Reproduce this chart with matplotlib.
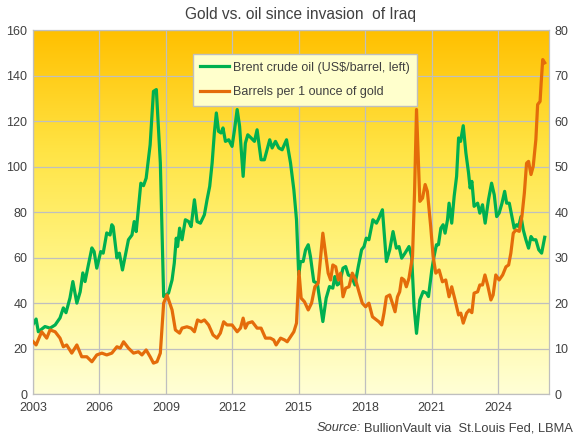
import numpy as np
import matplotlib
matplotlib.use("Agg")
import matplotlib.pyplot as plt
from matplotlib.colors import LinearSegmentedColormap

plt.rcParams["font.family"] = ["Liberation Sans", "DejaVu Sans"]
TXT = "#404040"

# Brent crude, US$/barrel (left axis)
oil_year = [2003.01, 2003.14, 2003.24, 2003.54, 2003.77, 2004.00, 2004.22, 2004.37, 2004.49, 2004.67,
            2004.80, 2004.98, 2005.13, 2005.25, 2005.35, 2005.50, 2005.66, 2005.76, 2005.88, 2006.06,
            2006.17, 2006.33, 2006.48, 2006.56, 2006.62, 2006.79, 2006.90, 2007.04, 2007.31, 2007.47,
            2007.57, 2007.66, 2007.76, 2007.87, 2007.99, 2008.11, 2008.29, 2008.44, 2008.57, 2008.75,
            2008.90, 2009.12, 2009.28, 2009.38, 2009.47, 2009.53, 2009.62, 2009.73, 2009.88, 2010.03,
            2010.14, 2010.29, 2010.41, 2010.56, 2010.74, 2010.86, 2010.98, 2011.09, 2011.19, 2011.28,
            2011.38, 2011.49, 2011.58, 2011.69, 2011.84, 2011.99, 2012.10, 2012.22, 2012.33, 2012.49,
            2012.59, 2012.70, 2012.85, 2013.00, 2013.12, 2013.30, 2013.45, 2013.57, 2013.69, 2013.80,
            2013.95, 2014.10, 2014.25, 2014.45, 2014.63, 2014.78, 2014.90, 2015.00, 2015.08, 2015.20,
            2015.31, 2015.43, 2015.53, 2015.68, 2015.84, 2015.99, 2016.09, 2016.24, 2016.39, 2016.54,
            2016.63, 2016.74, 2016.85, 2017.00, 2017.12, 2017.24, 2017.39, 2017.54, 2017.69, 2017.84,
            2017.95, 2018.05, 2018.17, 2018.35, 2018.51, 2018.62, 2018.78, 2018.85, 2018.96, 2019.11,
            2019.26, 2019.41, 2019.53, 2019.65, 2019.80, 2019.98, 2020.10, 2020.21, 2020.32, 2020.47,
            2020.62, 2020.77, 2020.86, 2021.01, 2021.11, 2021.22, 2021.31, 2021.42, 2021.52, 2021.61,
            2021.72, 2021.79, 2021.91, 2022.02, 2022.13, 2022.22, 2022.31, 2022.43, 2022.55, 2022.67,
            2022.74, 2022.82, 2022.92, 2023.08, 2023.18, 2023.30, 2023.42, 2023.57, 2023.71, 2023.83,
            2023.94, 2024.05, 2024.18, 2024.30, 2024.39, 2024.51, 2024.63, 2024.73, 2024.84, 2024.93,
            2025.04, 2025.14, 2025.26, 2025.38, 2025.49, 2025.59, 2025.71, 2025.84, 2025.97, 2026.11]
oil_usd = [30.8, 33.0, 27.4, 29.7, 29.0, 30.4, 33.5, 37.9, 35.8, 42.3,
           49.5, 40.0, 45.0, 53.3, 49.5, 56.8, 64.3, 62.7, 55.4, 62.7,
           62.0, 70.9, 70.0, 74.5, 73.7, 59.9, 62.0, 54.6, 67.9, 70.0,
           75.9, 71.5, 81.8, 92.8, 91.7, 95.0, 109.7, 133.2, 134.0, 101.8,
           42.9, 44.4, 50.2, 57.6, 68.6, 64.9, 73.0, 67.9, 76.7, 75.9,
           73.7, 85.5, 75.9, 75.2, 78.9, 85.5, 91.4, 101.7, 114.9, 123.7,
           115.6, 114.9, 117.1, 111.2, 111.9, 109.0, 116.3, 125.2, 117.8, 95.8,
           110.4, 114.1, 112.7, 111.2, 116.3, 103.1, 103.1, 107.5, 111.9, 108.3,
           111.2, 108.3, 107.5, 111.9, 101.7, 89.9, 76.7, 52.4, 58.3, 58.3,
           63.5, 65.7, 60.5, 49.5, 48.8, 38.5, 31.9, 42.2, 47.3, 46.6,
           51.7, 48.0, 48.8, 55.4, 56.1, 52.4, 51.7, 48.0, 56.1, 63.5,
           64.9, 68.6, 67.9, 76.7, 75.2, 77.4, 81.1, 72.3, 58.3, 63.5,
           71.5, 64.2, 64.9, 59.8, 62.0, 64.9, 60.5, 38.5, 26.7, 41.4,
           45.1, 44.4, 42.9, 54.6, 60.5, 65.7, 65.7, 73.0, 74.5, 70.8,
           76.7, 84.0, 75.2, 87.0, 95.8, 112.7, 111.2, 118.1, 106.1, 97.3,
           90.7, 93.6, 82.6, 84.0, 79.6, 83.3, 75.2, 85.5, 92.8, 87.7,
           78.1, 79.6, 84.0, 89.2, 84.0, 84.0, 78.1, 73.0, 74.5, 73.7,
           78.1, 72.3, 67.9, 64.2, 69.3, 67.9, 67.9, 63.5, 62.0, 69.0]

# barrels of Brent per ounce of gold (right axis)
ratio_year = [2003.01, 2003.14, 2003.39, 2003.62, 2003.77, 2004.00, 2004.22, 2004.37, 2004.52, 2004.75,
              2004.98, 2005.20, 2005.43, 2005.66, 2005.88, 2006.11, 2006.33, 2006.56, 2006.79, 2006.94,
              2007.09, 2007.31, 2007.54, 2007.76, 2007.92, 2008.11, 2008.29, 2008.44, 2008.60, 2008.75,
              2008.90, 2009.05, 2009.28, 2009.43, 2009.62, 2009.73, 2009.95, 2010.14, 2010.29, 2010.43,
              2010.59, 2010.74, 2010.93, 2011.13, 2011.31, 2011.46, 2011.61, 2011.76, 2011.99, 2012.22,
              2012.37, 2012.49, 2012.59, 2012.70, 2012.90, 2013.12, 2013.30, 2013.50, 2013.72, 2013.87,
              2013.98, 2014.18, 2014.36, 2014.48, 2014.63, 2014.78, 2014.90, 2015.01, 2015.11, 2015.26,
              2015.43, 2015.58, 2015.73, 2015.88, 2015.99, 2016.09, 2016.21, 2016.33, 2016.44, 2016.54,
              2016.67, 2016.79, 2016.89, 2017.00, 2017.12, 2017.27, 2017.42, 2017.57, 2017.72, 2017.87,
              2018.02, 2018.17, 2018.33, 2018.51, 2018.62, 2018.75, 2018.85, 2018.96, 2019.11, 2019.23,
              2019.35, 2019.46, 2019.56, 2019.65, 2019.76, 2019.86, 2019.98, 2020.14, 2020.23, 2020.32,
              2020.41, 2020.47, 2020.59, 2020.71, 2020.81, 2020.96, 2021.07, 2021.19, 2021.34, 2021.49,
              2021.64, 2021.79, 2021.91, 2022.06, 2022.22, 2022.32, 2022.43, 2022.58, 2022.70, 2022.82,
              2022.92, 2023.08, 2023.18, 2023.30, 2023.41, 2023.53, 2023.68, 2023.78, 2023.90, 2024.05,
              2024.21, 2024.36, 2024.48, 2024.58, 2024.69, 2024.81, 2024.96, 2025.08, 2025.19, 2025.29,
              2025.38, 2025.49, 2025.59, 2025.71, 2025.79, 2025.90, 2025.95, 2026.02, 2026.11]
ratio_bbl = [11.5, 10.8, 13.7, 12.3, 14.1, 13.7, 12.3, 10.4, 10.8, 9.0,
             10.8, 8.2, 8.2, 7.1, 8.6, 9.0, 8.6, 9.0, 10.4, 10.1,
             11.5, 10.1, 9.0, 9.3, 8.6, 9.7, 8.2, 6.8, 7.1, 9.0,
             20.0, 21.8, 18.5, 14.1, 13.4, 14.5, 14.8, 14.5, 13.7, 16.3,
             15.9, 16.3, 15.2, 13.0, 12.3, 13.4, 15.9, 15.2, 15.2, 13.7,
             14.5, 16.7, 14.5, 15.6, 15.9, 14.5, 14.5, 12.3, 12.3, 11.9,
             10.8, 12.3, 11.9, 11.5, 12.6, 13.7, 15.6, 27.0, 21.1, 20.3,
             18.5, 20.0, 23.6, 24.4, 30.3, 35.4, 31.0, 26.6, 25.1, 28.4,
             28.0, 25.1, 26.6, 21.4, 23.3, 23.6, 26.6, 25.1, 22.5, 20.0,
             19.2, 20.0, 17.0, 16.3, 15.9, 15.2, 17.8, 21.4, 21.8, 20.0,
             18.1, 21.4, 22.5, 25.5, 25.1, 23.6, 25.5, 30.3, 44.2, 62.6,
             50.1, 42.4, 43.1, 46.1, 44.6, 36.9, 30.3, 26.6, 27.3, 24.7,
             25.1, 21.4, 23.6, 20.7, 17.4, 17.8, 15.6, 17.8, 18.5, 17.9,
             22.2, 22.5, 24.0, 24.0, 26.2, 24.0, 20.7, 21.8, 26.2, 25.1,
             26.2, 28.0, 28.4, 31.0, 35.4, 36.1, 35.8, 39.1, 44.2, 50.8,
             51.2, 48.3, 50.1, 56.0, 63.7, 64.4, 68.5, 73.6, 72.9]

year_ticks = [2003, 2006, 2009, 2012, 2015, 2018, 2021, 2024]

fig = plt.figure(figsize=(5.76, 4.4), dpi=100)
ax = fig.add_axes([0.0573, 0.1045, 0.8957, 0.8262])
ax2 = ax.twinx()

# gradient fill behind the plot
cmap = LinearSegmentedColormap.from_list("bg", ["#FFC000", "#FFE445", "#FFF68A", "#FFFFD6"])
grad = np.linspace(0, 1, 256).reshape(-1, 1)
ax.imshow(grad, cmap=cmap, aspect="auto", extent=[2003, 2026.3, 0, 160], zorder=0, interpolation="bicubic")

ax.plot(oil_year, oil_usd, color="#00B050", lw=2.3, solid_joinstyle="round", zorder=3,
        label="Brent crude oil (US$/barrel, left)")
ax2.plot(ratio_year, ratio_bbl, color="#E46C0A", lw=2.3, solid_joinstyle="round", zorder=3,
         label="Barrels per 1 ounce of gold")

ax.set_xlim(2003, 2026.3)
ax.set_ylim(0, 160)
ax2.set_ylim(0, 80)
ax.set_xticks(year_ticks)
ax.set_yticks(range(0, 161, 20))
ax2.set_yticks(range(0, 81, 10))
ax.grid(True, color="#BFBFBF", lw=0.9, zorder=1)
ax.set_axisbelow(False)
for a in (ax, ax2):
    a.tick_params(length=0, labelsize=9, colors=TXT, pad=4)
    for s in a.spines.values():
        s.set_color("#BFBFBF")
ax.tick_params(axis="x", pad=6)
ax2.patch.set_visible(False)

h1, l1 = ax.get_legend_handles_labels()
h2, l2 = ax2.get_legend_handles_labels()
leg = ax2.legend(h1 + h2, l1 + l2, loc="upper left", bbox_to_anchor=(0.298, 0.952),
                 fontsize=9, frameon=True, fancybox=False, framealpha=1,
                 handlelength=2.3, handletextpad=0.3, labelspacing=1.0, borderpad=0.6)
leg.get_frame().set_facecolor("#FFFFCC")
leg.get_frame().set_edgecolor("#BFBFBF")
for t in leg.get_texts():
    t.set_color(TXT)

fig.text(0.521, 0.966, "Gold vs. oil since invasion  of Iraq", ha="center", va="center",
         fontsize=11.2, color=TXT)
src = fig.text(0.995, 0.027, "BullionVault via  St.Louis Fed, LBMA", ha="right", va="center",
               fontsize=9.3, color=TXT)
fig.canvas.draw()
bb = src.get_window_extent()
fig.text(bb.x0 / fig.bbox.width - 0.006, 0.027, "Source:", ha="right", va="center", fontsize=9.3,
         color=TXT, style="italic")

fig.savefig("out.png", dpi=100)
